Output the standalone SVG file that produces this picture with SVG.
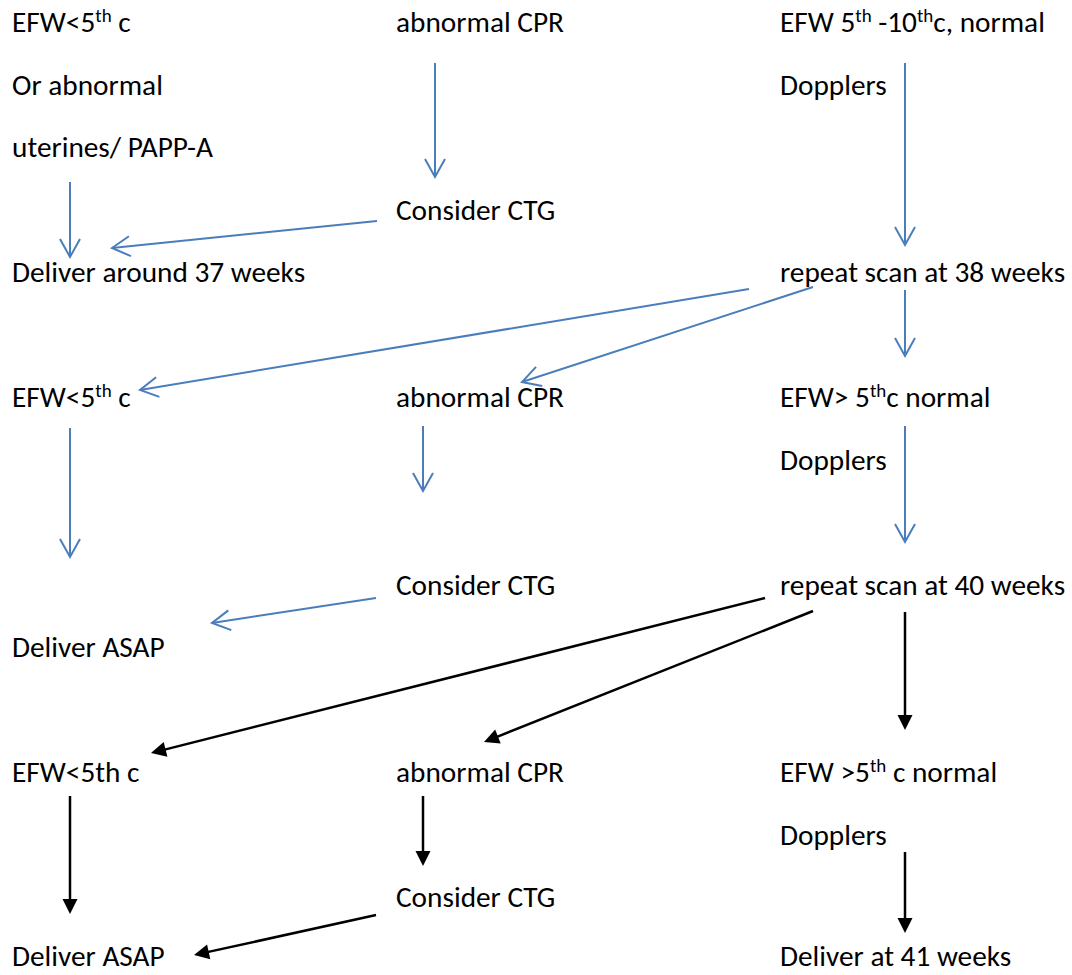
<svg xmlns="http://www.w3.org/2000/svg" width="1072" height="975" viewBox="0 0 1072 975">
<style>
text{font-family:Carlito,Lato,"Open Sans",sans-serif;font-size:29.3px;fill:#000}
.sup{font-size:19px}
.b{stroke:#4a7ebb;stroke-width:2;fill:none;marker-end:url(#vb)}
.k{stroke:#000;stroke-width:2.5;fill:none;marker-end:url(#kb)}
</style>
<defs>
<marker id="vb" markerUnits="userSpaceOnUse" orient="auto" overflow="visible" markerWidth="1" markerHeight="1" refX="0" refY="0">
<path d="M-18,-10 L0,0 L-18,10" fill="none" stroke="#4a7ebb" stroke-width="2"/>
</marker>
<marker id="kb" markerUnits="userSpaceOnUse" orient="auto" overflow="visible" markerWidth="1" markerHeight="1" refX="0" refY="0">
<path d="M10,0 L-5,-7.5 L-5,7.5 Z" fill="#000"/>
</marker>
</defs>
<rect width="1072" height="975" fill="#fff"/>
<g id="connectors">
<line class="b" x1="70" y1="182" x2="70" y2="257"/>
<line class="b" x1="377" y1="221" x2="112" y2="248"/>
<line class="b" x1="435" y1="63" x2="435" y2="177"/>
<line class="b" x1="905" y1="63" x2="905" y2="245"/>
<line class="b" x1="749" y1="289" x2="140" y2="390"/>
<line class="b" x1="813" y1="287" x2="522" y2="382"/>
<line class="b" x1="905" y1="290" x2="905" y2="356"/>
<line class="b" x1="70" y1="428" x2="70" y2="557"/>
<line class="b" x1="423" y1="426" x2="423" y2="491"/>
<line class="b" x1="905" y1="426" x2="905" y2="542"/>
<line class="b" x1="376" y1="598" x2="212" y2="623"/>
<line class="k" x1="765" y1="598" x2="160.7" y2="750.6"/>
<line class="k" x1="813" y1="611" x2="493.3" y2="738.3"/>
<line class="k" x1="905" y1="612" x2="905" y2="720"/>
<line class="k" x1="70" y1="796" x2="70" y2="904"/>
<line class="k" x1="423" y1="796" x2="423" y2="856"/>
<line class="k" x1="905" y1="852" x2="905" y2="923"/>
<line class="k" x1="376" y1="915" x2="203.8" y2="952.9"/>
</g>
<g id="n-efw1"><text x="12" y="32">EFW&lt;5<tspan class="sup" dy="-10">th</tspan><tspan dy="10"> c</tspan></text></g>
<g id="n-orabn"><text x="12" y="94.5">Or abnormal</text></g>
<g id="n-uter"><text x="12" y="157">uterines/ PAPP-A</text></g>
<g id="n-del37"><text x="12" y="282">Deliver around 37 weeks</text></g>
<g id="n-cpr1"><text x="396" y="32">abnormal CPR</text></g>
<g id="n-ctg1"><text x="396" y="219.5">Consider CTG</text></g>
<g id="n-efwr1"><text x="780" y="32">EFW 5<tspan class="sup" dy="-10">th</tspan><tspan dy="10"> -10</tspan><tspan class="sup" dy="-10">th</tspan><tspan dy="10">c, normal</tspan></text></g>
<g id="n-dop1"><text x="780" y="94.5">Dopplers</text></g>
<g id="n-rep38"><text x="780" y="282">repeat scan at 38 weeks</text></g>
<g id="n-efw2"><text x="12" y="407">EFW&lt;5<tspan class="sup" dy="-10">th</tspan><tspan dy="10"> c</tspan></text></g>
<g id="n-cpr2"><text x="396" y="407">abnormal CPR</text></g>
<g id="n-efwr2"><text x="780" y="407">EFW&gt; 5<tspan class="sup" dy="-10">th</tspan><tspan dy="10">c normal</tspan></text></g>
<g id="n-dop2"><text x="780" y="469.5">Dopplers</text></g>
<g id="n-ctg2"><text x="396" y="594.5">Consider CTG</text></g>
<g id="n-rep40"><text x="780" y="594.5">repeat scan at 40 weeks</text></g>
<g id="n-asap1"><text x="12" y="657">Deliver ASAP</text></g>
<g id="n-efw3"><text x="12" y="782">EFW&lt;5th c</text></g>
<g id="n-cpr3"><text x="396" y="782">abnormal CPR</text></g>
<g id="n-efwr3"><text x="780" y="782">EFW &gt;5<tspan class="sup" dy="-10">th</tspan><tspan dy="10"> c normal</tspan></text></g>
<g id="n-dop3"><text x="780" y="844.5">Dopplers</text></g>
<g id="n-ctg3"><text x="396" y="907">Consider CTG</text></g>
<g id="n-asap2"><text x="12" y="966">Deliver ASAP</text></g>
<g id="n-del41"><text x="780" y="966">Deliver at 41 weeks</text></g>
</svg>
